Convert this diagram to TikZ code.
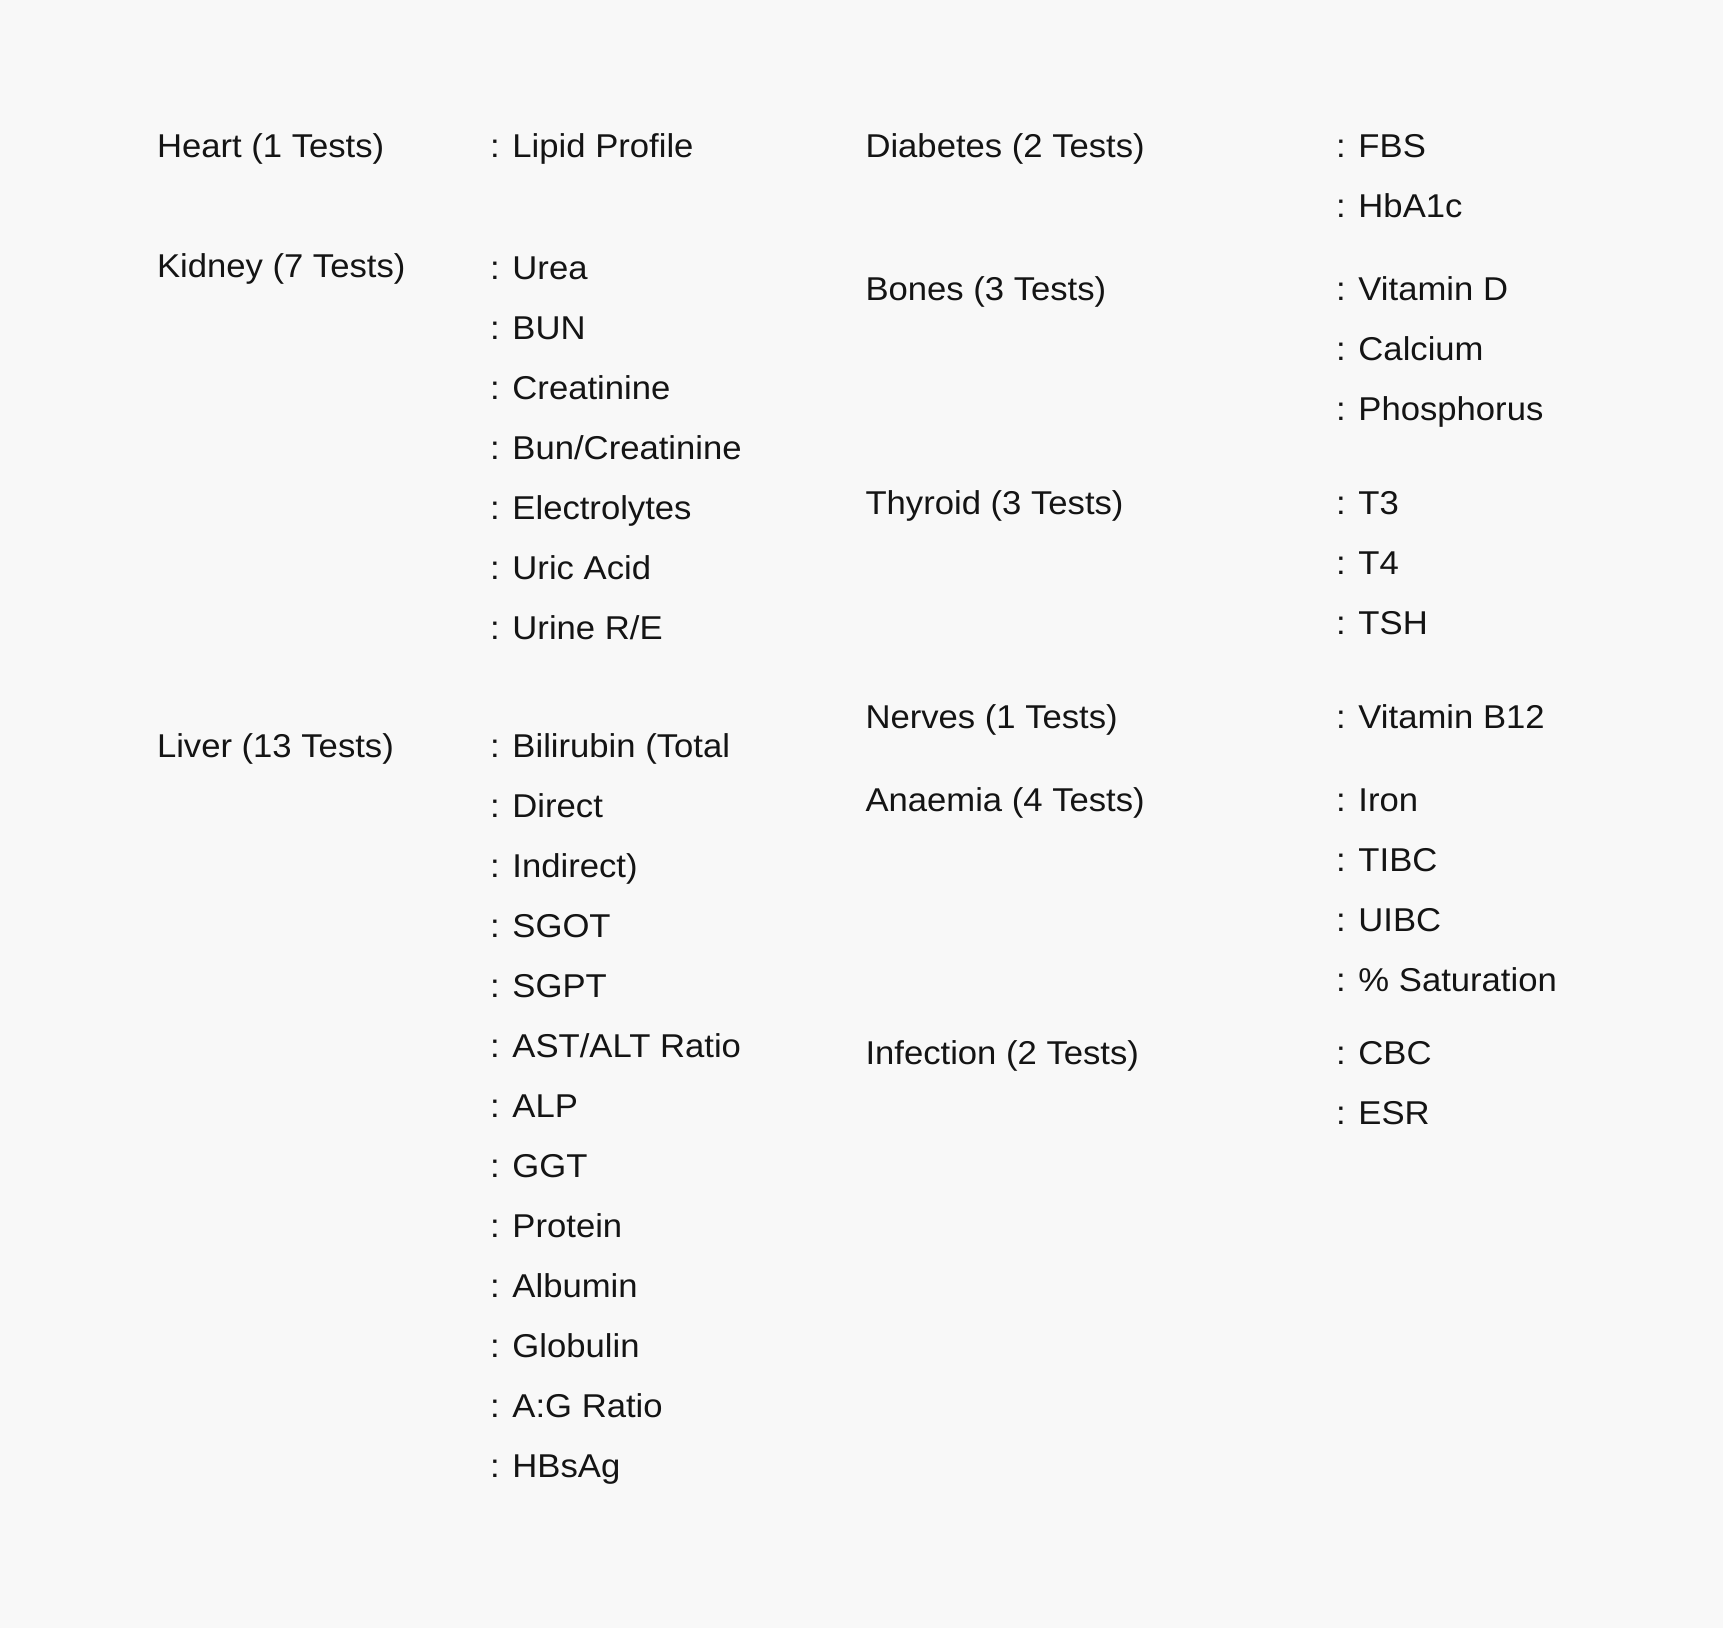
\documentclass[tikz,border=0pt]{standalone}
\usepackage{fontspec}
\setmainfont{Liberation Sans}[FakeStretch=1.05]
\definecolor{bgcol}{HTML}{F8F8F8}
\definecolor{txtcol}{HTML}{141414}
\begin{document}
\begin{tikzpicture}[x=1pt,y=-1pt,
  txt/.style={anchor=base west,inner sep=0pt,outer sep=0pt,text=txtcol,
    font=\fontsize{33}{40}\selectfont}]
\fill[bgcol] (0,0) rectangle (1723,1628);
\useasboundingbox (0,0) rectangle (1723,1628);
% column positions
\def\xa{157}\def\xb{490}\def\xc{865.5}\def\xd{1336}
% left column headers
\node[txt] (heart)  at (\xa,157.5) {Heart (1 Tests)};
\node[txt] (kidney) at (\xa,277.5) {Kidney (7 Tests)};
\node[txt] (liver)  at (\xa,757.4) {Liver (13 Tests)};
% left column items
\node[txt] (lipid) at (\xb,157.5) {: Lipid Profile};
\node[txt] (k1) at (\xb,279.4) {: Urea};
\node[txt] (k2) at (\xb,339.4) {: BUN};
\node[txt] (k3) at (\xb,399.4) {: Creatinine};
\node[txt] (k4) at (\xb,459.4) {: Bun/Creatinine};
\node[txt] (k5) at (\xb,519.4) {: Electrolytes};
\node[txt] (k6) at (\xb,579.4) {: Uric Acid};
\node[txt] (k7) at (\xb,639.4) {: Urine R/E};
\node[txt] (l1)  at (\xb,757.4)  {: Bilirubin (Total};
\node[txt] (l2)  at (\xb,817.4)  {: Direct};
\node[txt] (l3)  at (\xb,877.4)  {: Indirect)};
\node[txt] (l4)  at (\xb,937.4)  {: SGOT};
\node[txt] (l5)  at (\xb,997.4)  {: SGPT};
\node[txt] (l6)  at (\xb,1057.4) {: AST/ALT Ratio};
\node[txt] (l7)  at (\xb,1117.4) {: ALP};
\node[txt] (l8)  at (\xb,1177.4) {: GGT};
\node[txt] (l9)  at (\xb,1237.4) {: Protein};
\node[txt] (l10) at (\xb,1297.4) {: Albumin};
\node[txt] (l11) at (\xb,1357.4) {: Globulin};
\node[txt] (l12) at (\xb,1417.4) {: A:G Ratio};
\node[txt] (l13) at (\xb,1477.4) {: HBsAg};
% right column headers
\node[txt] (diab)  at (\xc,157.5)  {Diabetes (2 Tests)};
\node[txt] (bones) at (\xc,300.3)  {Bones (3 Tests)};
\node[txt] (thy)   at (\xc,514.6)  {Thyroid (3 Tests)};
\node[txt] (nerv)  at (\xc,728.9)  {Nerves (1 Tests)};
\node[txt] (anae)  at (\xc,811.3)  {Anaemia (4 Tests)};
\node[txt] (inf)   at (\xc,1064.0) {Infection (2 Tests)};
% right column items
\node[txt] (d1) at (\xd,157.5) {: FBS};
\node[txt] (d2) at (\xd,217.5) {: HbA1c};
\node[txt] (b1) at (\xd,300.3) {: Vitamin D};
\node[txt] (b2) at (\xd,360.3) {: Calcium};
\node[txt] (b3) at (\xd,420.3) {: Phosphorus};
\node[txt] (t1) at (\xd,514.6) {: T3};
\node[txt] (t2) at (\xd,574.6) {: T4};
\node[txt] (t3) at (\xd,634.6) {: TSH};
\node[txt] (n1) at (\xd,728.9) {: Vitamin B12};
\node[txt] (a1) at (\xd,811.3) {: Iron};
\node[txt] (a2) at (\xd,871.3) {: TIBC};
\node[txt] (a3) at (\xd,931.3) {: UIBC};
\node[txt] (a4) at (\xd,991.3) {: \% Saturation};
\node[txt] (i1) at (\xd,1064.0) {: CBC};
\node[txt] (i2) at (\xd,1124.0) {: ESR};
\end{tikzpicture}
\end{document}
